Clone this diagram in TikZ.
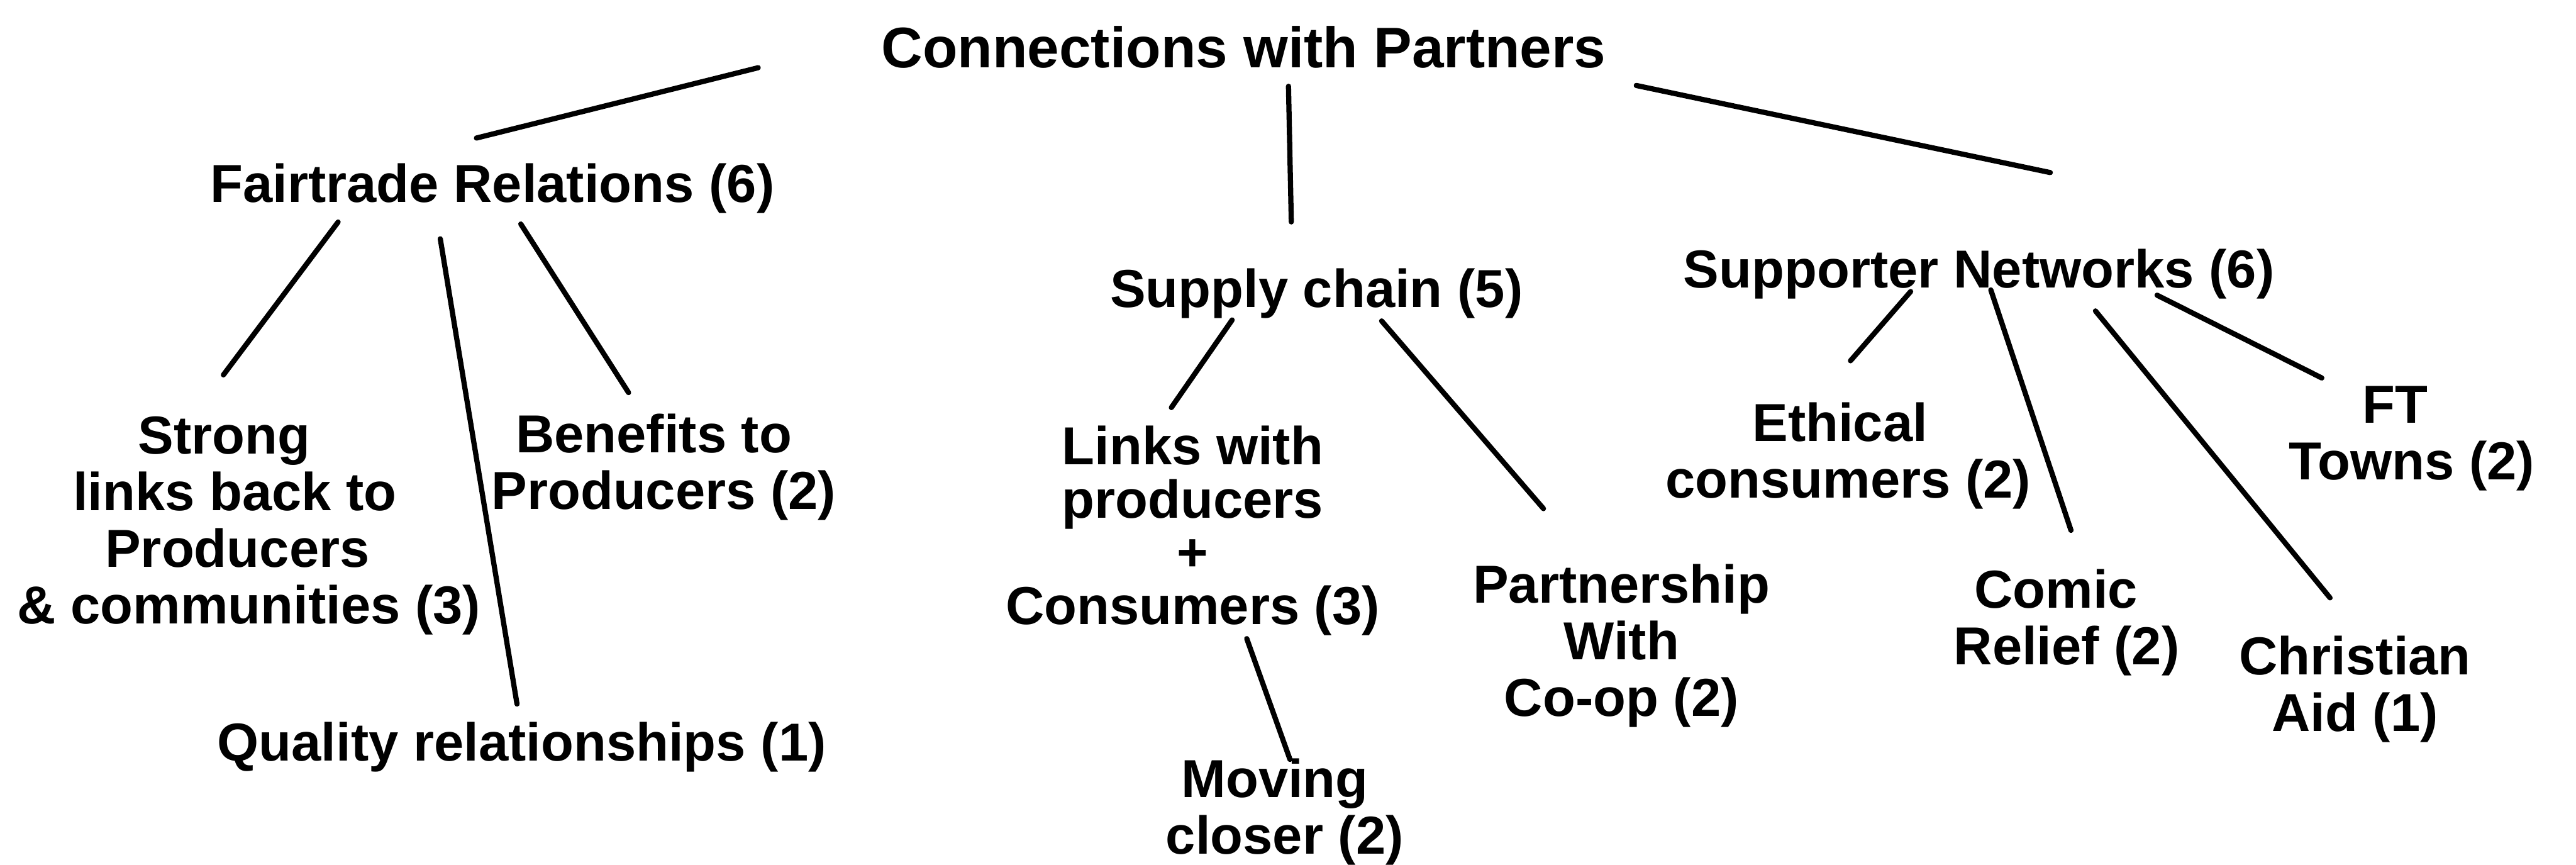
\documentclass[tikz,border=0pt]{standalone}
\usepackage{fontspec}
\setmainfont{Liberation Sans}
\begin{document}
\begin{tikzpicture}[x=0.01cm,y=-0.01cm,
  lbl/.style={font=\fontsize{9.25}{9.8}\selectfont\bfseries, inner sep=0pt, align=center, anchor=base},
  head/.style={lbl, font=\fontsize{9.9}{10.4}\selectfont\bfseries},
  link/.style={line width=0.9pt, line cap=round}]
\useasboundingbox (0,0) rectangle (1568,526);

% top of the tree (multi-line labels are placed by the baseline of their last line)
\node[head] (root) at (757,41) {Connections with Partners};

% first level
\node[lbl] (fair)    at (299.7,123) {Fairtrade Relations (6)};
\node[lbl] (supply)  at (801.3,187) {Supply chain (5)};
\node[lbl] (support) at (1204.6,175) {Supporter Networks (6)};

% Fairtrade Relations branch
\node[lbl] (strong)  at (143,379.5) {Strong\hspace*{0.13cm}\\links back to\hspace*{0.1cm}\\\hspace*{0.03cm}Producers\\\hspace*{0.17cm}\& communities (3)};
\node[lbl] (benefit) at (401,310) {Benefits to\hspace*{0.06cm}\\\hspace*{0.06cm}Producers (2)};
\node[lbl] (quality) at (317.6,463) {Quality relationships (1)};

% Supply chain branch
\node[lbl] (links)   at (726,380) {Links with\\[-0.02cm]producers\\[-0.02cm]+\\[-0.02cm]Consumers (3)};
\node[lbl] (moving)  at (782,519.5) {Moving\hspace*{0.12cm}\\closer (2)};
\node[lbl] (partner) at (987,436) {Partnership\\With\\Co-op (2)};

% Supporter Networks branch
\node[lbl] (ethical)   at (1125,303) {Ethical\hspace*{0.1cm}\\consumers (2)};
\node[lbl] (comic)     at (1258,404.5) {Comic\hspace*{0.13cm}\\Relief (2)};
\node[lbl] (christian) at (1433.5,445) {Christian\\Aid (1)};
\node[lbl] (ft)        at (1468,292) {FT\hspace*{0.2cm}\\Towns (2)};

% connector end points
\coordinate (r1) at (461.5,41.2);   \coordinate (f0) at (290,84);
\coordinate (r2) at (784.3,52.5);   \coordinate (s0) at (786,135);
\coordinate (r3) at (996,52);       \coordinate (n0) at (1248,105);
\coordinate (f1) at (205.8,135.1);  \coordinate (st) at (136,228.1);
\coordinate (f2) at (268,145.3);    \coordinate (qu) at (314.7,428.4);
\coordinate (f3) at (317,136.3);    \coordinate (be) at (382.6,238.9);
\coordinate (s1) at (750,194.7);    \coordinate (li) at (713,248);
\coordinate (s2) at (841,195.3);    \coordinate (pa) at (939.5,309.5);
\coordinate (l1) at (758.9,388.6);  \coordinate (mo) at (785.2,462.1);
\coordinate (n1) at (1163,177.4);   \coordinate (et) at (1126.4,219.5);
\coordinate (n2) at (1211.8,176.4); \coordinate (co) at (1260.6,322.7);
\coordinate (n3) at (1275.5,189.2); \coordinate (ch) at (1418.3,363.8);
\coordinate (n4) at (1313,179.6);   \coordinate (ftl) at (1413.3,230);

% connectors
\draw[link] (r1) -- (f0);
\draw[link] (r2) -- (s0);
\draw[link] (r3) -- (n0);
\draw[link] (f1) -- (st);
\draw[link] (f2) -- (qu);
\draw[link] (f3) -- (be);
\draw[link] (s1) -- (li);
\draw[link] (s2) -- (pa);
\draw[link] (l1) -- (mo);
\draw[link] (n1) -- (et);
\draw[link] (n2) -- (co);
\draw[link] (n3) -- (ch);
\draw[link] (n4) -- (ftl);
\end{tikzpicture}
\end{document}
